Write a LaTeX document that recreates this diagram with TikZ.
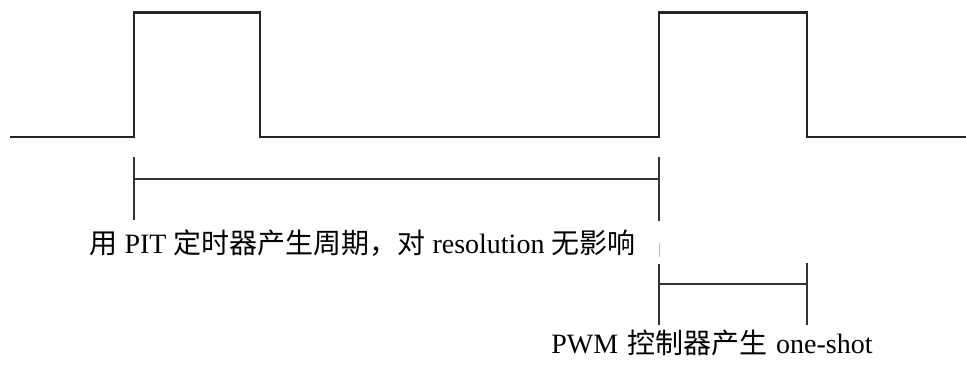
\documentclass[tikz,border=0pt]{standalone}
\usepackage{fontspec}
\setmainfont{Liberation Serif}
\newfontfamily\cjk{Noto Sans CJK SC}
\begin{document}
\begin{tikzpicture}[x=1pt,y=-1pt,
  wave/.style={line width=2.5pt,draw=black!85,line join=miter},
  brk/.style={line width=2.2pt,draw=black!80},
  lbl/.style={anchor=base,inner sep=0pt,font=\fontsize{28}{32}\selectfont}]
\useasboundingbox (0,0) rectangle (966,365);
% waveform
\coordinate (w0) at (10,137);
\coordinate (r1) at (134,137);
\coordinate (f1) at (260,137);
\coordinate (r2) at (659,137);
\coordinate (f2) at (807,137);
\coordinate (w1) at (966,137);
\draw[wave] (w0) -- (r1) -- ++(0,-124.5) -| (f1) -- (r2) -- ++(0,-124.5) -| (f2) -- (w1);
% bracket 1 (period)
\coordinate (a1) at (134,157);
\coordinate (a2) at (134,220);
\coordinate (b1) at (659,157);
\coordinate (b2) at (659,221);
\coordinate (am) at (134,179);
\coordinate (bm) at (659,179);
\draw[brk] (a1) -- (a2);
\draw[brk] (b1) -- (b2);
\draw[brk] (am) -- (bm);
% faint tick
\coordinate (t1) at (659,243);
\coordinate (t2) at (659,257);
\draw[line width=1pt,gray!55] (t1) -- (t2);
% bracket 2 (one-shot)
\coordinate (c1) at (659,264);
\coordinate (c2) at (659,325);
\coordinate (d1) at (807,263);
\coordinate (d2) at (807,325);
\coordinate (cm) at (659,284);
\coordinate (dm) at (807,284);
\draw[brk] (c1) -- (c2);
\draw[brk] (d1) -- (d2);
\draw[brk] (cm) -- (dm);
% labels
\node[lbl] (l1) at (362.5,253) {{\cjk 用} PIT {\cjk 定时器产生周期，对} resolution {\cjk 无影响}};
\node[lbl] (l2) at (712,353) {PWM \hspace{2pt}{\cjk 控制器产生}\hspace{2pt} one-shot};
\end{tikzpicture}
\end{document}
